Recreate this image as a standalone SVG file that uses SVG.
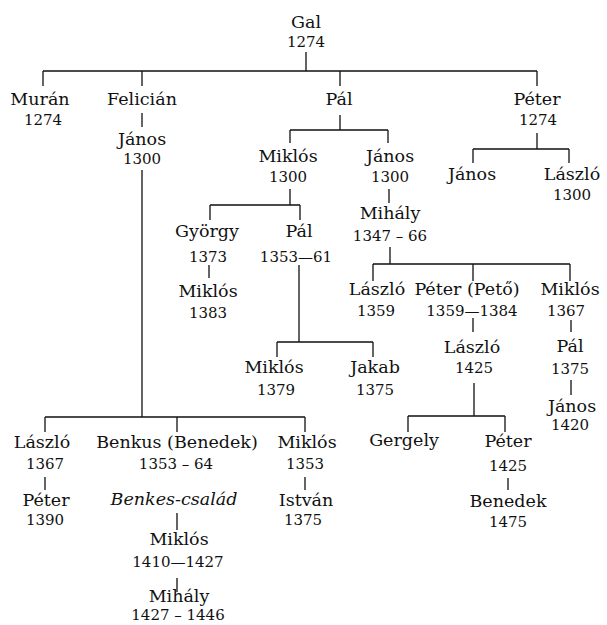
<svg xmlns="http://www.w3.org/2000/svg" width="607" height="625" viewBox="0 0 607 625">
<style>
text{fill:#111;text-anchor:middle;font-family:'DejaVu Serif','Liberation Serif',serif}
.n{font-size:17.5px}
.d{font-size:15px}
.i{font-size:17.5px;font-style:italic}
#connectors path{stroke:#111;stroke-width:1.3;fill:none}
</style>
<rect width="607" height="625" fill="#fff"/>
<g id="connectors">
<path d="M306 52V71M43 71H537M43 71V86M142 71V86M340 71V86M537 71V86"/>
<path d="M142 113V127"/>
<path d="M340 115V130M290 130H388M290 130V143M388 130V143"/>
<path d="M537 133V149M473 149H569M473 149V163M569 149V163"/>
<path d="M290 189V205M210 205H300M210 205V220M300 205V220"/>
<path d="M209 265V278"/>
<path d="M299 265V342M277 342H373M277 342V357M373 342V357"/>
<path d="M389 189V203"/>
<path d="M390 247V264M373 264H570M373 264V281M473 264V281M570 264V281"/>
<path d="M473 318V332"/>
<path d="M474 383V416M408 416H505M408 416V432M505 416V432"/>
<path d="M508 478V490"/>
<path d="M571 320V332M571 380V395"/>
<path d="M142 170V417M45 417H305M45 417V432M177 417V432M305 417V432"/>
<path d="M45 477V490"/>
<path d="M177 513V530M177 578V592"/>
<path d="M305 477V490"/>
</g>
<g id="gal"><text class="n" x="306" y="28">Gal</text><text class="d" x="306" y="47">1274</text></g>
<g id="muran"><text class="n" x="40" y="105">Murán</text><text class="d" x="43" y="125">1274</text></g>
<g id="felician"><text class="n" x="142" y="105">Felicián</text></g>
<g id="pal1"><text class="n" x="339" y="105">Pál</text></g>
<g id="peter1"><text class="n" x="537" y="105">Péter</text><text class="d" x="538" y="125">1274</text></g>
<g id="janos-f"><text class="n" x="142" y="145">János</text><text class="d" x="142" y="164">1300</text></g>
<g id="miklos1300"><text class="n" x="288" y="162">Miklós</text><text class="d" x="288" y="182">1300</text></g>
<g id="janos1300"><text class="n" x="390" y="162">János</text><text class="d" x="390" y="182">1300</text></g>
<g id="janos-p"><text class="n" x="472" y="180">János</text></g>
<g id="laszlo1300"><text class="n" x="572" y="180">László</text><text class="d" x="572" y="200">1300</text></g>
<g id="mihaly1347"><text class="n" x="390" y="219">Mihály</text><text class="d" x="390" y="241">1347 – 66</text></g>
<g id="gyorgy"><text class="n" x="207" y="237">György</text><text class="d" x="208" y="262">1373</text></g>
<g id="pal1353"><text class="n" x="299" y="237">Pál</text><text class="d" x="296" y="262">1353—61</text></g>
<g id="miklos1383"><text class="n" x="208" y="297">Miklós</text><text class="d" x="208" y="318">1383</text></g>
<g id="laszlo1359"><text class="n" x="377" y="295">László</text><text class="d" x="376" y="316">1359</text></g>
<g id="peto"><text class="n" x="467" y="295">Péter (Pető)</text><text class="d" x="472" y="316">1359—1384</text></g>
<g id="miklos1367"><text class="n" x="570" y="295">Miklós</text><text class="d" x="566" y="316">1367</text></g>
<g id="laszlo1425"><text class="n" x="472" y="353">László</text><text class="d" x="474" y="373">1425</text></g>
<g id="pal1375"><text class="n" x="570" y="352">Pál</text><text class="d" x="570" y="374">1375</text></g>
<g id="miklos1379"><text class="n" x="274" y="373">Miklós</text><text class="d" x="276" y="395">1379</text></g>
<g id="jakab"><text class="n" x="375" y="373">Jakab</text><text class="d" x="375" y="395">1375</text></g>
<g id="janos1420"><text class="n" x="572" y="412">János</text><text class="d" x="570" y="430">1420</text></g>
<g id="gergely"><text class="n" x="404" y="446">Gergely</text></g>
<g id="peter1425"><text class="n" x="508" y="447">Péter</text><text class="d" x="508" y="471">1425</text></g>
<g id="benedek"><text class="n" x="508" y="507">Benedek</text><text class="d" x="508" y="527">1475</text></g>
<g id="laszlo1367"><text class="n" x="42" y="448">László</text><text class="d" x="45" y="469">1367</text></g>
<g id="benkus"><text class="n" x="177" y="448">Benkus (Benedek)</text><text class="d" x="176" y="469">1353 – 64</text></g>
<g id="miklos1353"><text class="n" x="307" y="448">Miklós</text><text class="d" x="305" y="469">1353</text></g>
<g id="peter1390"><text class="n" x="46" y="506">Péter</text><text class="d" x="45" y="525">1390</text></g>
<g id="benkes"><text class="i" x="174" y="505">Benkes-család</text></g>
<g id="istvan"><text class="n" x="306" y="506">István</text><text class="d" x="303" y="525">1375</text></g>
<g id="miklos1410"><text class="n" x="179" y="545">Miklós</text><text class="d" x="178" y="567">1410—1427</text></g>
<g id="mihaly1427"><text class="n" x="179" y="602">Mihály</text><text class="d" x="178" y="620">1427 – 1446</text></g>
</svg>
